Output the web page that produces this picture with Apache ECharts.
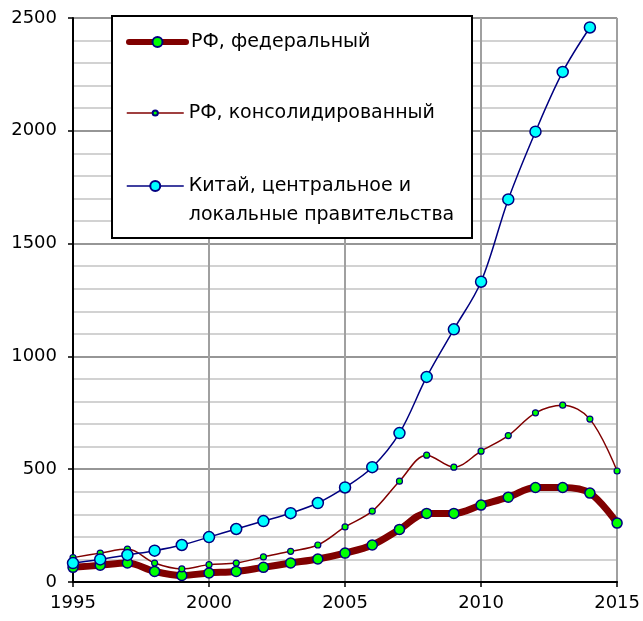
<!DOCTYPE html>
<html>
<head>
<meta charset="utf-8">
<script src="https://cdn.jsdelivr.net/npm/echarts@6/dist/echarts.min.js"></script>
<style>html,body{margin:0;padding:0;background:#fff}#c{width:643px;height:621px}</style>
</head>
<body>
<div id="c"></div>
<script>
const years = [1995,1996,1997,1998,1999,2000,2001,2002,2003,2004,2005,2006,2007,2008,2009,2010,2011,2012,2013,2014,2015];
const federal = [65,74,84,47,29,40,47,65,84,102,128,164,233,304,304,341,376,419,419,394,261];
const consolidated = [108,128,146,84,58,77,84,111,136,164,244,314,447,562,509,580,649,750,784,722,492];
const chinaYears = [1995,1996,1997,1998,1999,2000,2001,2002,2003,2004,2005,2006,2007,2008,2009,2010,2011,2012,2013,2014];
const china = [84,100,120,139,164,199,235,270,305,350,419,509,660,909,1120,1331,1696,1996,2261,2458];
const seriesNames = ['РФ, федеральный', 'РФ, консолидированный', 'Китай, центральное и локальные правительства'];
const xTickLabels = {1995:'1995',2000:'2000',2005:'2005',2010:'2010',2015:'2015'};
const yTickLabels = {0:'0',500:'500',1000:'1000',1500:'1500',2000:'2000',2500:'2500'};

const FONT = 'DejaVu Sans';
const pairs = (xs, ys) => xs.map((x, i) => [x, ys[i]]);
const legendBase = {
  orient: 'vertical', left: 126, padding: 0, itemGap: 0, itemWidth: 57,
  selectedMode: false, z: 10,
  textStyle: { fontFamily: FONT, fontSize: 19, lineHeight: 29, color: '#000' }
};

const chart = echarts.init(document.getElementById('c'), null, { renderer: 'canvas' });
chart.setOption({
  animation: false,
  backgroundColor: '#fff',
  grid: { left: 73, right: 24, top: 18, bottom: 39, containLabel: false },
  xAxis: {
    type: 'value', min: 1995, max: 2015, interval: 5,
    axisLine: { show: true, onZero: false, lineStyle: { color: '#000', width: 2 } },
    axisTick: { show: true, length: 5, lineStyle: { color: '#000', width: 1.5 } },
    axisLabel: { margin: 12, fontFamily: FONT, fontSize: 18, color: '#000', formatter: v => xTickLabels[v] || '' },
    splitLine: { show: true, lineStyle: { color: '#a0a0a0', width: 2 } }
  },
  yAxis: {
    type: 'value', min: 0, max: 2500, interval: 500,
    axisLine: { show: true, lineStyle: { color: '#000', width: 2 } },
    axisTick: { show: true, length: 5, lineStyle: { color: '#000', width: 1.5 } },
    axisLabel: { margin: 16, fontFamily: FONT, fontSize: 18, color: '#000', formatter: v => yTickLabels[v] || '' },
    splitLine: { show: true, lineStyle: { color: '#969696', width: 2 } },
    minorTick: { show: false, splitNumber: 5 },
    minorSplitLine: { show: true, lineStyle: { color: '#d2d2d2', width: 2 } }
  },
  legend: [
    Object.assign({}, legendBase, { data: [seriesNames[0]], top: 27.5, itemHeight: 12.5,
      lineStyle: { color: '#800000', width: 6, cap: 'round' } }),
    Object.assign({}, legendBase, { data: [seriesNames[1]], top: 98.5, itemHeight: 6.5,
      lineStyle: { color: '#800000', width: 1.5 } }),
    Object.assign({}, legendBase, { data: [seriesNames[2]], top: 142.5, itemHeight: 12.5,
      lineStyle: { color: '#000080', width: 1.5 },
      formatter: () => '\nКитай, центральное и\nлокальные правительства' })
  ],
  graphic: [{
    type: 'rect', z: 5,
    shape: { x: 112, y: 16, width: 360, height: 222 },
    style: { fill: '#fff', stroke: '#000', lineWidth: 2 }
  }],
  series: [
    {
      name: seriesNames[0], type: 'line', smooth: 0.35, z: 2,
      data: pairs(years, federal),
      symbol: 'circle', symbolSize: 10,
      lineStyle: { color: '#800000', width: 7 },
      itemStyle: { color: '#00ff00', borderColor: '#000080', borderWidth: 1.5 }
    },
    {
      name: seriesNames[1], type: 'line', smooth: 0.35, z: 3,
      data: pairs(years, consolidated),
      symbol: 'circle', symbolSize: 6,
      lineStyle: { color: '#800000', width: 1.5 },
      itemStyle: { color: '#00ff00', borderColor: '#000080', borderWidth: 1.2 }
    },
    {
      name: seriesNames[2], type: 'line', smooth: 0.35, z: 4,
      data: pairs(chinaYears, china),
      symbol: 'circle', symbolSize: 11,
      lineStyle: { color: '#000080', width: 1.5 },
      itemStyle: { color: '#00ffff', borderColor: '#000080', borderWidth: 1.5 }
    }
  ]
});
</script>
</body>
</html>
